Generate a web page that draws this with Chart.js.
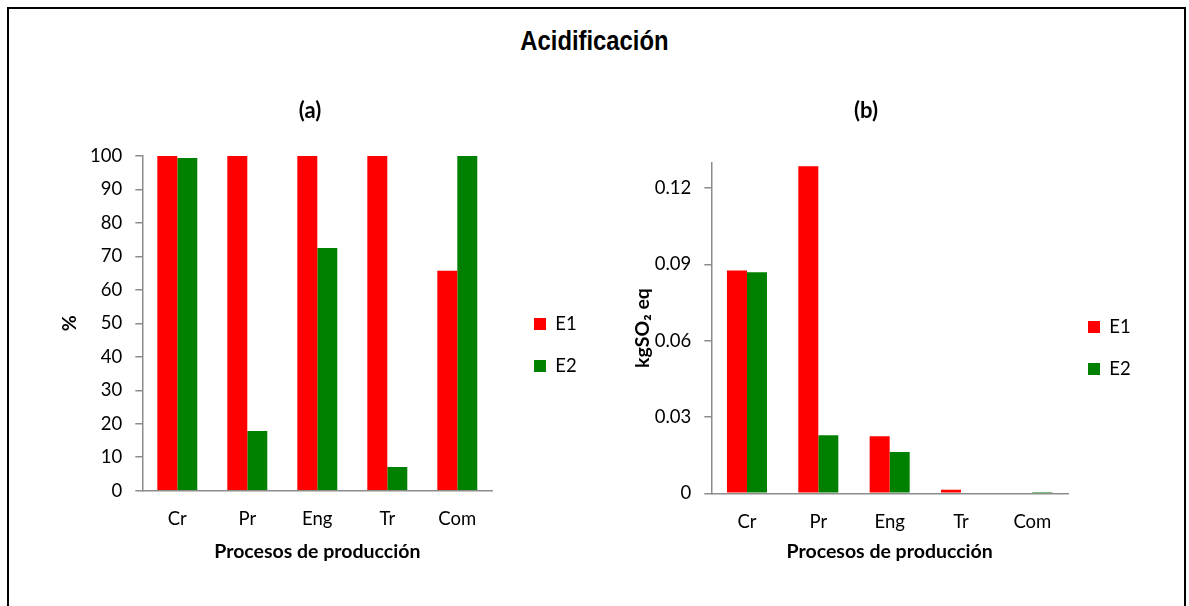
<!DOCTYPE html>
<html lang="es">
<head>
<meta charset="utf-8">
<title>Acidificación</title>
<script src="https://cdn.jsdelivr.net/npm/chart.js@4.4.1/dist/chart.umd.min.js"></script>
<style>
  html, body { margin: 0; padding: 0; background: #fff; }
  body { width: 1189px; height: 606px; position: relative; overflow: hidden; }
  #frame {
    position: absolute; left: 7px; top: 7px; width: 1179px; height: 640px;
    border: 2px solid #000; box-sizing: border-box;
  }
  #mainTitle {
    position: absolute; left: 0; width: 1189px; top: 23px; text-align: center;
    font-family: "Liberation Sans Narrow", "Arial Narrow", "Liberation Sans", sans-serif;
    font-weight: bold; font-size: 28px; line-height: 36px; color: #000;
    transform: scaleX(0.85); transform-origin: 594px 0;
  }
  .box { position: absolute; top: 90px; height: 510px; }
  #boxA { left: 40px; width: 540px; }
  #boxB { left: 594px; width: 558px; }
</style>
</head>
<body>
<div id="frame"></div>
<div id="mainTitle">Acidificación</div>
<div class="box" id="boxA"><canvas id="chartA"></canvas></div>
<div class="box" id="boxB"><canvas id="chartB"></canvas></div>
<script>
// Production stages
const categories = ['Cr', 'Pr', 'Eng', 'Tr', 'Com'];
const seriesNames = ['E1', 'E2'];

// (a) relative contribution, %
const pctE1 = [100, 100, 100, 100, 65.7];
const pctE2 = [99.4, 17.8, 72.5, 7.1, 100];
const pctTicks = [0, 10, 20, 30, 40, 50, 60, 70, 80, 90, 100];

// (b) absolute values, kg SO2 eq
const kgE1 = [0.0876, 0.1286, 0.0224, 0.0014, 0.0003];
const kgE2 = [0.0869, 0.0228, 0.0162, 0, 0.0005];
const kgTicks = [0, 0.03, 0.06, 0.09, 0.12];

const RED = '#ff0000';
const GREEN = '#008000';
const AXIS = '#8c8c8c';
const FONT = 'Lato, "Open Sans", "Noto Sans", sans-serif';
const TICK_SIZE = 18.5;
const AXIS_TITLE_SIZE = 19.5;

// Shifts the legend block after layout so it sits clear of the plot
const legendNudge = {
  id: 'legendNudge',
  afterLayout(chart, args, opts) {
    const lg = chart.legend;
    if (!lg) return;
    const dx = opts.dx || 0, dy = opts.dy || 0;
    lg.left += dx; lg.right += dx;
    lg.top += dy; lg.bottom += dy;
  }
};

function buildChart(id, cfg) {
  return new Chart(document.getElementById(id), {
    type: 'bar',
    data: {
      labels: categories,
      datasets: [
        { label: seriesNames[0], data: cfg.e1, backgroundColor: RED, borderWidth: 0 },
        { label: seriesNames[1], data: cfg.e2, backgroundColor: GREEN, borderWidth: 0 }
      ]
    },
    plugins: [legendNudge],
    options: {
      responsive: true,
      maintainAspectRatio: false,
      animation: false,
      events: [],
      categoryPercentage: cfg.catPct,
      barPercentage: 1,
      layout: { padding: { left: cfg.padLeft, right: cfg.padRight, top: 0, bottom: 0 } },
      plugins: {
        tooltip: { enabled: false },
        title: {
          display: true, text: cfg.title, color: '#000',
          font: { family: FONT, size: 22, weight: 'bold' },
          padding: { top: 7.8, bottom: cfg.titleGap }
        },
        legend: {
          position: 'right',
          maxWidth: 70,
          labels: {
            boxWidth: 12, boxHeight: 12, padding: 23.5, color: '#000',
            font: { family: FONT, size: TICK_SIZE }
          }
        },
        legendNudge: { dx: cfg.legendDx, dy: cfg.legendDy }
      },
      scales: {
        x: {
          grid: { display: false, drawTicks: false },
          border: { display: true, color: AXIS, width: 1.5 },
          ticks: { color: '#000', padding: 17.5, font: { family: FONT, size: TICK_SIZE } },
          title: {
            display: true, text: 'Procesos de producción', color: '#000',
            font: { family: FONT, size: AXIS_TITLE_SIZE, weight: 'bold' },
            padding: { top: 4, bottom: 36.3 }
          },
          afterFit(scale) { scale.height = cfg.xHeight; }
        },
        y: {
          min: 0, max: cfg.yMax,
          grid: { display: true, drawOnChartArea: false, drawTicks: true, tickLength: 7, color: AXIS, lineWidth: 1.5 },
          border: { display: true, color: AXIS, width: 1.5 },
          ticks: {
            color: '#000', padding: 13, font: { family: FONT, size: TICK_SIZE },
            callback: (v) => String(v)
          },
          afterBuildTicks(scale) { scale.ticks = cfg.ticks.map(v => ({ value: v })); },
          title: {
            display: true, text: cfg.yTitle, color: '#000',
            font: { family: FONT, size: AXIS_TITLE_SIZE, weight: 'bold' },
            padding: { top: cfg.yTitlePad, bottom: 4 }
          },
          afterFit(scale) { scale.width = cfg.yWidth; }
        }
      }
    }
  });
}

buildChart('chartA', {
  title: '(a)', e1: pctE1, e2: pctE2, ticks: pctTicks, yMax: 100, yTitle: '%',
  catPct: 0.571, padLeft: 17.7, padRight: 17.7, yWidth: 84.6, yTitlePad: 0.6, xHeight: 109.3,
  titleGap: 31.8, legendDx: 18.2, legendDy: 0
});

buildChart('chartB', {
  title: '(b)', e1: kgE1, e2: kgE2, ticks: kgTicks, yMax: 0.13, yTitle: 'kgSO₂ eq',
  catPct: 0.561, padLeft: 0, padRight: 14, yWidth: 117.3, yTitlePad: 37.3, xHeight: 106.7,
  titleGap: 38.5, legendDx: -3.5, legendDy: 3
});
</script>
</body>
</html>
